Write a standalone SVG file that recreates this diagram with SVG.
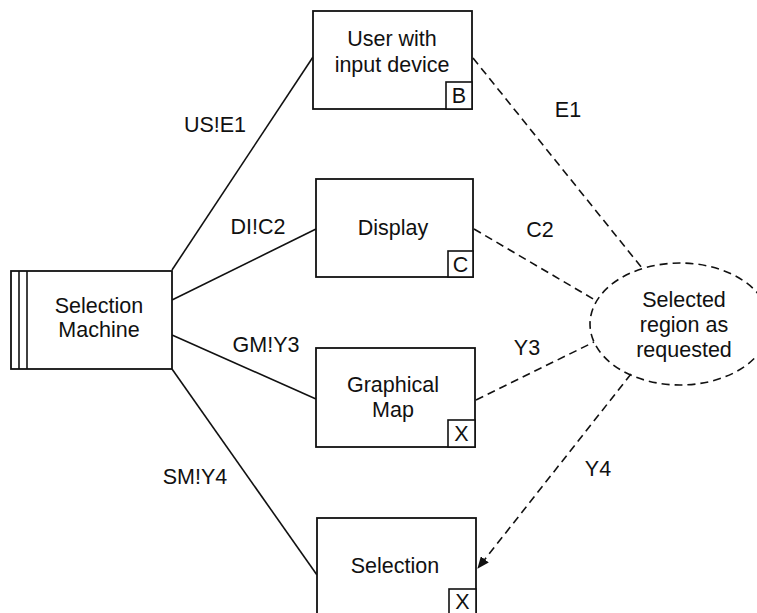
<svg xmlns="http://www.w3.org/2000/svg" width="757" height="613" viewBox="0 0 757 613">
  <defs>
    <style>
      .box { fill: #fff; stroke: #111; stroke-width: 1.8; }
      .tag { fill: #fff; stroke: #111; stroke-width: 1.6; }
      .link { fill: none; stroke: #111; stroke-width: 1.6; }
      .dash { fill: none; stroke: #111; stroke-width: 1.6; stroke-dasharray: 8 5; }
      text { font-family: "Liberation Sans", Arial, sans-serif; font-size: 21.5px; fill: #111; }
      .c { text-anchor: middle; }
    </style>
    <marker id="arrow" viewBox="0 0 12 10" refX="11" refY="5" markerWidth="12" markerHeight="10" markerUnits="userSpaceOnUse" orient="auto">
      <path d="M0,0 L12,5 L0,10 Z" fill="#111"/>
    </marker>
  </defs>
  <rect width="757" height="613" fill="#fff"/>

  <g id="connectors">
    <!-- shared phenomena (solid) -->
    <line class="link" x1="172" y1="270" x2="313" y2="57"/>
    <line class="link" x1="172" y1="300" x2="316" y2="229"/>
    <line class="link" x1="172" y1="335" x2="316" y2="399"/>
    <line class="link" x1="172" y1="369" x2="317" y2="575"/>
    <!-- requirement references (dashed) -->
    <line class="dash" x1="473" y1="58" x2="642" y2="268"/>
    <line class="dash" x1="474" y1="229" x2="595" y2="300"/>
    <line class="dash" x1="476" y1="400" x2="594" y2="342"/>
    <line class="dash" x1="631" y1="374" x2="478" y2="568" marker-end="url(#arrow)"/>
  </g>

  <g id="labels">
    <text x="215" y="132" class="c">US!E1</text>
    <text x="258" y="234" class="c">DI!C2</text>
    <text x="266" y="352" class="c">GM!Y3</text>
    <text x="195" y="484" class="c">SM!Y4</text>
    <text x="568" y="117" class="c">E1</text>
    <text x="540" y="237" class="c">C2</text>
    <text x="527" y="355" class="c">Y3</text>
    <text x="598" y="476" class="c">Y4</text>
  </g>

  <g id="selection-machine">
    <rect class="box" x="11" y="271" width="161" height="98"/>
    <line class="link" x1="19" y1="271" x2="19" y2="369"/>
    <line class="link" x1="27" y1="271" x2="27" y2="369"/>
    <text x="99" y="313" class="c">Selection</text>
    <text x="99" y="337" class="c">Machine</text>
  </g>

  <g id="user">
    <rect class="box" x="313" y="11" width="159" height="98"/>
    <rect class="tag" x="446" y="82" width="26" height="27"/>
    <text x="459" y="103" class="c">B</text>
    <text x="392" y="46" class="c">User with</text>
    <text x="392" y="72" class="c">input device</text>
  </g>

  <g id="display">
    <rect class="box" x="316" y="179" width="157" height="98"/>
    <rect class="tag" x="448" y="251" width="25" height="26"/>
    <text x="460.5" y="272" class="c">C</text>
    <text x="393" y="235" class="c">Display</text>
  </g>

  <g id="graphical-map">
    <rect class="box" x="316" y="348" width="159" height="99"/>
    <rect class="tag" x="448" y="420" width="27" height="27"/>
    <text x="461.5" y="441" class="c">X</text>
    <text x="393" y="392" class="c">Graphical</text>
    <text x="393" y="417" class="c">Map</text>
  </g>

  <g id="selection">
    <rect class="box" x="317" y="518" width="159" height="110"/>
    <rect class="tag" x="449" y="589" width="27" height="30"/>
    <text x="462.5" y="609" class="c">X</text>
    <text x="395" y="573" class="c">Selection</text>
  </g>

  <g id="requirement">
    <ellipse class="dash" cx="680" cy="324" rx="90" ry="61" fill="#fff"/>
    <text x="684" y="307" class="c">Selected</text>
    <text x="684" y="332" class="c">region as</text>
    <text x="684" y="357" class="c">requested</text>
  </g>
</svg>
